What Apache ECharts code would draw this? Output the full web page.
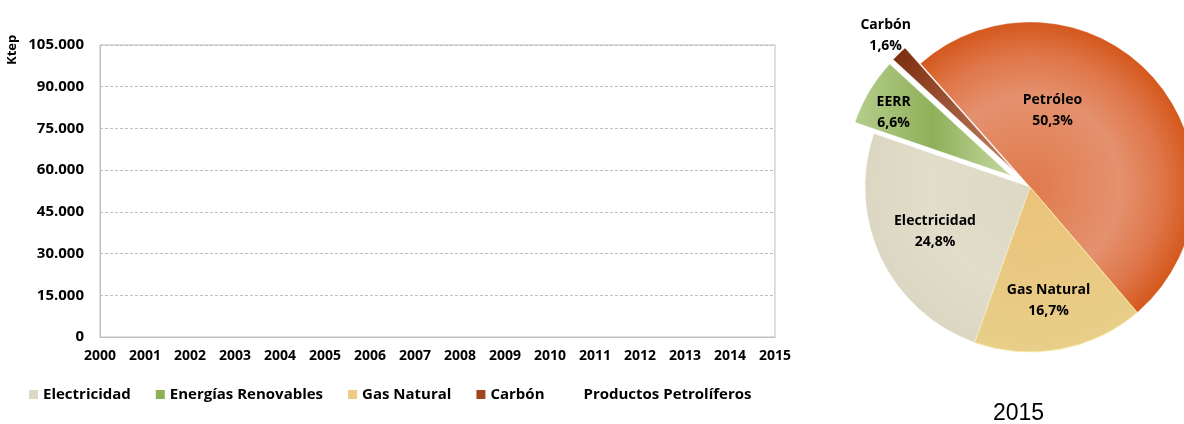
<!DOCTYPE html>
<html>
<head>
<meta charset="utf-8">
<script src="https://cdn.jsdelivr.net/npm/echarts@6/dist/echarts.min.js"></script>
<style>
html,body{margin:0;padding:0;background:#fff;}
#chart{width:1184px;height:424px;}
</style>
</head>
<body>
<div id="chart"></div>
<script>
// ---- data ----
const years = ['2000','2001','2002','2003','2004','2005','2006','2007','2008','2009','2010','2011','2012','2013','2014','2015'];
const seriesNames = ['Electricidad','Energías Renovables','Gas Natural','Carbón','Productos Petrolíferos'];
// time-series values (none are drawn in the reference chart)
const electricidad = [];
const renovables = [];
const gasNatural = [];
const carbon = [];
const petroliferos = [];
const yTicks = [0, 15000, 30000, 45000, 60000, 75000, 90000, 105000];

const pieYear = '2015';
const pieNames = ['Petróleo','Gas Natural','Electricidad','EERR','Carbón'];
const pieValues = [50.3, 16.7, 24.8, 6.6, 1.6];
const pieExploded = [false, false, false, true, true];

// ---- styles ----
const FONT = '"Open Sans", "Noto Sans", sans-serif';
const lineColors = ['#DDD9C4', '#8DB055', '#EDCB82', '#A0451F', 'rgba(0,0,0,0)'];
const CX = 1030, CY = 187, R = 165;

const pieColors = [
  {type:'radial', x:CX, y:CY, r:R, global:true, colorStops:[
    {offset:0, color:'#E07A4C'}, {offset:0.55, color:'#E4916E'}, {offset:0.8, color:'#DF7649'}, {offset:1, color:'#D4581C'}]},
  {type:'radial', x:CX, y:CY, r:R, global:true, colorStops:[
    {offset:0, color:'#EBC27A'}, {offset:1, color:'#E8CE88'}]},
  {type:'radial', x:CX, y:CY, r:R, global:true, colorStops:[
    {offset:0, color:'#DDD8C3'}, {offset:0.6, color:'#E1DDCA'}, {offset:1, color:'#DCD7C2'}]},
  {type:'linear', x:0, y:0, x2:1, y2:0, colorStops:[
    {offset:0, color:'#B5CD8B'}, {offset:0.5, color:'#8FB05A'}, {offset:1, color:'#C5D9A0'}]},
  {type:'linear', x:0, y:0, x2:1, y2:1, colorStops:[
    {offset:0, color:'#7A2A0C'}, {offset:1, color:'#C48466'}]}
];
// label nudges relative to ECharts default inside positions
const labelNudge = [[-42,-20],[3,29],[-18,7],[-44,-20],[-69,-75]];

const lineData = [electricidad, renovables, gasNatural, carbon, petroliferos];

const chart = echarts.init(document.getElementById('chart'), null, {renderer:'canvas'});

const option = {
  backgroundColor: '#fff',
  animation: false,
  title: {
    text: pieYear, left: 988, top: 397,
    textStyle: {fontFamily: '"Liberation Sans", Arial, sans-serif', fontWeight: 'normal', fontSize: 23, color: '#000'}
  },
  graphic: [{
    type: 'text', x: 6, y: 65, rotation: Math.PI/2,
    style: {text: 'Ktep', font: 'bold 13px ' + FONT, fill: '#000'}
  }],
  legend: {
    data: seriesNames.map((n,i)=>({name:n, icon:'rect', itemStyle:{color: lineColors[i]}})),
    left: 24, top: 382, itemWidth: 9, itemHeight: 9, itemGap: 25,
    textStyle: {fontFamily: FONT, fontWeight: 'bold', fontSize: 15, color: '#000'},
    selectedMode: false
  },
  grid: {left: 100, right: 409, top: 45, bottom: 87, show: true, borderColor: '#BFBFBF', borderWidth: 1},
  xAxis: {
    type: 'category', data: years, boundaryGap: false,
    axisLine: {lineStyle: {color: '#BFBFBF'}}, axisTick: {show: false},
    axisLabel: {fontFamily: FONT, fontWeight: 'bold', fontSize: 14, color: '#000', margin: 12, interval: 0}
  },
  yAxis: {
    type: 'value', min: yTicks[0], max: yTicks[yTicks.length-1], interval: yTicks[1]-yTicks[0],
    axisLine: {show: true, lineStyle: {color: '#BFBFBF'}}, axisTick: {show: false},
    splitLine: {lineStyle: {color: '#BFBFBF', type: [3,2], width: 1}},
    axisLabel: {fontFamily: FONT, fontWeight: 'bold', fontSize: 15, color: '#000', margin: 16,
      formatter: v => v.toString().replace(/\B(?=(\d{3})+(?!\d))/g, '.')}
  },
  series: seriesNames.map((n,i)=>({
    name: n, type: 'line', stack: 'total', data: lineData[i], symbol: 'none',
    itemStyle: {color: lineColors[i]}, lineStyle: {width: 0}, areaStyle: {color: lineColors[i]}
  })).concat([{
    name: 'pie', type: 'pie', center: [CX, CY], radius: R, startAngle: 131.6, clockwise: true,
    selectedMode: 'multiple', selectedOffset: 22, avoidLabelOverlap: false,
    label: {show: true, position: 'inside', formatter: p => p.name + '\n' + p.value.toFixed(1).replace('.', ',') + '%',
      fontFamily: FONT, fontWeight: 'bold', fontSize: 14, color: '#000', lineHeight: 21},
    labelLine: {show: false},
    labelLayout: p => ({dx: labelNudge[p.dataIndex][0], dy: labelNudge[p.dataIndex][1]}),
    emphasis: {disabled: true},
    data: pieNames.map((n,i)=>({name:n, value: pieValues[i], selected: pieExploded[i],
      itemStyle: {color: pieColors[i], borderColor: i===1 ? '#F6EBA5' : 'rgba(255,255,255,0.6)', borderWidth: i===1 ? 1 : 0.5}}))
  }])
};
chart.setOption(option);
</script>
</body>
</html>
